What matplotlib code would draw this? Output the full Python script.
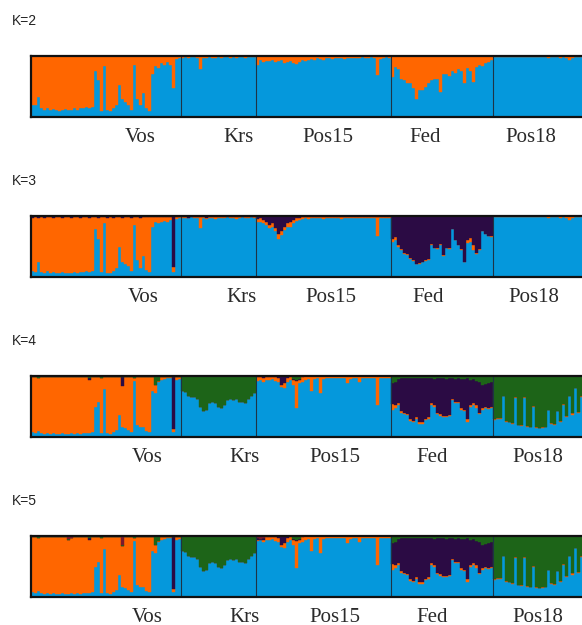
import numpy as np
import matplotlib.pyplot as plt

pops = ['Vos', 'Krs', 'Pos15', 'Fed', 'Pos18']
sizes = [50, 25, 45, 34, 30]
k_labels = ['K=2', 'K=3', 'K=4', 'K=5']

colors = {'blue': '#0598DC', 'orange': '#FF6600', 'purple': '#2B0B44',
          'green': '#1D6418', 'red': '#7A1A2E'}
order = ['blue', 'orange', 'purple', 'green', 'red']

# ---- K=2 (orange is the rest) ----
vos_k2_blue = [0.20, 0.19, 0.33, 0.14, 0.12, 0.15, 0.11, 0.13, 0.12, 0.10,
               0.12, 0.13, 0.11, 0.12, 0.14, 0.12, 0.15, 0.14, 0.17, 0.15,
               0.16, 0.75, 0.60, 0.10, 0.83, 0.12, 0.10, 0.15, 0.20, 0.53,
               0.30, 0.25, 0.20, 0.12, 0.86, 0.30, 0.20, 0.40, 0.15, 0.10,
               0.70, 0.83, 0.80, 0.88, 0.86, 0.90, 0.85, 0.47, 0.95, 0.96]
krs_k2_blue = [0.97, 0.98, 0.97, 0.99, 0.98, 0.97, 0.78, 0.97, 0.96, 0.98,
               0.97, 0.96, 0.98, 0.97, 0.98, 0.99, 0.97, 0.98, 0.96, 0.98,
               0.99, 0.97, 0.98, 0.99, 0.98]
pos15_k2_blue = [0.85, 0.93, 0.90, 0.92, 0.91, 0.94, 0.90, 0.92, 0.93, 0.89,
                 0.90, 0.92, 0.88, 0.87, 0.90, 0.93, 0.92, 0.94, 0.95, 0.94,
                 0.96, 0.95, 0.94, 0.97, 0.96, 0.95, 0.96, 0.97, 0.96, 0.95,
                 0.97, 0.96, 0.97, 0.96, 0.97, 0.98, 0.96, 0.97, 0.98, 0.97,
                 0.69, 0.95, 0.97, 0.98, 0.97]
fed_k2_blue = [0.66, 0.82, 0.78, 0.63, 0.60, 0.55, 0.55, 0.47, 0.30, 0.44,
               0.45, 0.50, 0.55, 0.60, 0.63, 0.62, 0.41, 0.70, 0.71, 0.68,
               0.75, 0.72, 0.78, 0.76, 0.55, 0.80, 0.75, 0.58, 0.82, 0.85,
               0.84, 0.88, 0.90, 0.93]
pos18_k2_blue = [0.98, 0.99, 0.98, 0.99, 0.99, 0.98, 0.99, 0.98, 0.99, 0.99,
                 0.98, 0.99, 0.99, 0.98, 0.99, 0.98, 0.99, 0.98, 0.97, 0.98,
                 0.99, 0.98, 0.96, 0.98, 0.97, 0.93, 0.97, 0.98, 0.99, 0.98]

# ---- K=3 ----
vos_k3_blue = [0.10, 0.09, 0.25, 0.08, 0.07, 0.10, 0.07, 0.08, 0.07, 0.06,
               0.08, 0.07, 0.06, 0.07, 0.08, 0.07, 0.09, 0.08, 0.10, 0.09,
               0.10, 0.78, 0.62, 0.08, 0.88, 0.07, 0.06, 0.10, 0.15, 0.50,
               0.25, 0.22, 0.18, 0.10, 0.86, 0.28, 0.15, 0.35, 0.12, 0.08,
               0.82, 0.90, 0.88, 0.90, 0.92, 0.90, 0.93, 0.08, 0.95, 0.96]
vos_k3_purple = [0.03, 0.02, 0.03, 0.02, 0.03, 0.02, 0.02, 0.03, 0.02, 0.02,
                 0.03, 0.02, 0.02, 0.03, 0.02, 0.02, 0.03, 0.02, 0.02, 0.03,
                 0.02, 0.02, 0.03, 0.02, 0.02, 0.03, 0.02, 0.04, 0.02, 0.02,
                 0.03, 0.02, 0.02, 0.03, 0.02, 0.02, 0.03, 0.02, 0.02, 0.01,
                 0.01, 0.01, 0.02, 0.01, 0.01, 0.01, 0.01, 0.84, 0.01, 0.01]
krs_k3_blue = [0.96, 0.97, 0.96, 0.98, 0.97, 0.96, 0.80, 0.96, 0.95, 0.97,
               0.96, 0.95, 0.97, 0.96, 0.97, 0.98, 0.96, 0.97, 0.95, 0.97,
               0.98, 0.96, 0.97, 0.98, 0.97]
krs_k3_purple = [0.02, 0.02, 0.03, 0.01, 0.02, 0.02, 0.02, 0.02, 0.03, 0.02,
                 0.02, 0.02, 0.01, 0.02, 0.02, 0.01, 0.02, 0.02, 0.02, 0.01,
                 0.01, 0.02, 0.02, 0.01, 0.02]
pos15_k3_blue = [0.90, 0.90, 0.88, 0.85, 0.80, 0.82, 0.75, 0.62, 0.69, 0.77,
                 0.82, 0.82, 0.89, 0.92, 0.94, 0.95, 0.96, 0.95, 0.96, 0.96,
                 0.97, 0.96, 0.95, 0.97, 0.96, 0.96, 0.97, 0.96, 0.95, 0.97,
                 0.96, 0.97, 0.96, 0.97, 0.96, 0.97, 0.96, 0.97, 0.97, 0.96,
                 0.68, 0.96, 0.97, 0.97, 0.96]
pos15_k3_purple = [0.05, 0.04, 0.06, 0.10, 0.15, 0.12, 0.20, 0.30, 0.25, 0.18,
                   0.12, 0.10, 0.06, 0.04, 0.03, 0.02, 0.01, 0.01, 0.01, 0.01,
                   0.01, 0.01, 0.01, 0.01, 0.01, 0.01, 0.01, 0.01, 0.01, 0.01,
                   0.01, 0.01, 0.01, 0.01, 0.01, 0.01, 0.01, 0.01, 0.01, 0.01,
                   0.01, 0.01, 0.01, 0.01, 0.01]
fed_k3_blue = [0.58, 0.60, 0.50, 0.45, 0.38, 0.36, 0.30, 0.27, 0.21, 0.22,
               0.24, 0.27, 0.28, 0.53, 0.47, 0.46, 0.53, 0.35, 0.47, 0.46,
               0.78, 0.60, 0.52, 0.45, 0.24, 0.55, 0.58, 0.45, 0.38, 0.45,
               0.75, 0.70, 0.67, 0.66]
fed_k3_orange = [0.04, 0.05, 0.02, 0.01, 0.01, 0.01, 0.01, 0.01, 0.01, 0.01,
                 0.01, 0.01, 0.01, 0.01, 0.01, 0.01, 0.01, 0.01, 0.01, 0.01,
                 0.01, 0.01, 0.01, 0.01, 0.01, 0.05, 0.06, 0.08, 0.01, 0.01,
                 0.01, 0.01, 0.01, 0.01]

# ---- K=4 ----
vos_k4_blue = [0.08, 0.07, 0.10, 0.06, 0.05, 0.06, 0.05, 0.06, 0.05, 0.05,
               0.06, 0.05, 0.05, 0.06, 0.05, 0.06, 0.05, 0.06, 0.07, 0.06,
               0.08, 0.50, 0.58, 0.06, 0.78, 0.06, 0.05, 0.08, 0.12, 0.36,
               0.17, 0.15, 0.12, 0.08, 0.92, 0.20, 0.17, 0.16, 0.10, 0.08,
               0.75, 0.72, 0.90, 0.94, 0.95, 0.96, 0.97, 0.08, 0.94, 0.95]
vos_k4_purple = [0, 0, 0, 0, 0, 0, 0, 0, 0, 0,
                 0, 0, 0, 0, 0, 0, 0, 0, 0, 0.03,
                 0, 0, 0, 0, 0, 0, 0, 0, 0, 0,
                 0.15, 0, 0, 0, 0, 0, 0, 0, 0, 0,
                 0, 0, 0, 0, 0, 0, 0, 0.86, 0, 0]
vos_k4_green = [0.01, 0.01, 0.04, 0.01, 0.01, 0.01, 0.01, 0.01, 0.01, 0.01,
                0.01, 0.01, 0.01, 0.01, 0.01, 0.01, 0.01, 0.01, 0.01, 0.03,
                0.01, 0.01, 0.01, 0.03, 0.01, 0.01, 0.01, 0.01, 0.01, 0.01,
                0.01, 0.01, 0.01, 0.01, 0.04, 0.01, 0.01, 0.01, 0.01, 0.01,
                0.01, 0.15, 0.08, 0.01, 0.01, 0.01, 0.01, 0.01, 0.02, 0.01]
krs_k4_blue = [0.75, 0.73, 0.68, 0.65, 0.66, 0.62, 0.50, 0.43, 0.45, 0.56,
               0.58, 0.55, 0.50, 0.48, 0.52, 0.60, 0.63, 0.60, 0.62, 0.58,
               0.57, 0.55, 0.62, 0.68, 0.72]
pos15_k4_blue = [0.92, 0.93, 0.90, 0.94, 0.93, 0.95, 0.92, 0.90, 0.82, 0.80,
                 0.90, 0.93, 0.85, 0.47, 0.88, 0.90, 0.94, 0.95, 0.75, 0.95,
                 0.96, 0.72, 0.95, 0.96, 0.97, 0.96, 0.97, 0.96, 0.97, 0.96,
                 0.88, 0.95, 0.97, 0.96, 0.90, 0.96, 0.97, 0.96, 0.97, 0.96,
                 0.53, 0.96, 0.97, 0.96, 0.97]
pos15_k4_purple = [0.02, 0.02, 0.03, 0.02, 0.02, 0.01, 0.02, 0.03, 0.14, 0.12,
                   0.04, 0.02, 0.02, 0.02, 0.01, 0.01, 0, 0, 0, 0,
                   0, 0, 0, 0, 0, 0, 0, 0, 0, 0,
                   0, 0, 0, 0, 0, 0, 0, 0, 0, 0,
                   0, 0, 0, 0, 0]
pos15_k4_green = [0, 0, 0, 0, 0, 0, 0, 0, 0, 0,
                  0, 0, 0.05, 0.07, 0.05, 0, 0, 0, 0, 0,
                  0, 0, 0, 0, 0, 0, 0, 0, 0, 0,
                  0, 0, 0, 0, 0, 0, 0, 0, 0, 0,
                  0, 0, 0, 0, 0]
fed_k4_blue = [0.44, 0.47, 0.53, 0.40, 0.38, 0.36, 0.27, 0.25, 0.30, 0.22,
               0.22, 0.28, 0.30, 0.53, 0.50, 0.37, 0.35, 0.33, 0.33, 0.34,
               0.60, 0.56, 0.55, 0.45, 0.42, 0.25, 0.50, 0.52, 0.48, 0.38,
               0.45, 0.47, 0.46, 0.48]
fed_k4_orange = [0.10, 0.06, 0.02, 0.03, 0.02, 0.02, 0.02, 0.02, 0.02, 0.02,
                 0.02, 0.02, 0.02, 0.02, 0.02, 0.02, 0.02, 0.02, 0.02, 0.02,
                 0.02, 0.02, 0.02, 0.02, 0.03, 0.05, 0.02, 0.03, 0.05, 0.02,
                 0.02, 0.02, 0.02, 0.02]
fed_k4_green = [0.12, 0.10, 0.05, 0.04, 0.03, 0.04, 0.03, 0.03, 0.04, 0.03,
                0.03, 0.04, 0.03, 0.04, 0.05, 0.04, 0.03, 0.04, 0.05, 0.04,
                0.04, 0.05, 0.04, 0.05, 0.05, 0.04, 0.06, 0.05, 0.08, 0.10,
                0.14, 0.13, 0.12, 0.10]
pos18_k4_blue = [0.28, 0.30, 0.30, 0.67, 0.25, 0.24, 0.22, 0.64, 0.19, 0.18,
                 0.64, 0.17, 0.16, 0.50, 0.15, 0.14, 0.15, 0.16, 0.44, 0.22,
                 0.20, 0.42, 0.25, 0.53, 0.33, 0.67, 0.36, 0.80, 0.40, 0.66]
pos18_k4_orange = [0.01, 0.01, 0.01, 0.01, 0.01, 0.01, 0.01, 0.01, 0.01, 0.01,
                   0.01, 0.01, 0.01, 0.01, 0.01, 0.01, 0.01, 0.01, 0.01, 0.01,
                   0.01, 0.01, 0.01, 0.01, 0.01, 0.01, 0.03, 0.01, 0.01, 0.01]

# ---- K=5 (extra cluster on top of the K=4 pattern) ----
vos_k5_purple = [0, 0, 0, 0, 0, 0, 0, 0, 0, 0,
                 0, 0, 0, 0, 0, 0, 0, 0, 0, 0.03,
                 0, 0, 0, 0, 0, 0, 0, 0, 0, 0,
                 0, 0, 0, 0, 0, 0, 0, 0, 0, 0,
                 0, 0, 0, 0, 0, 0, 0, 0.86, 0, 0]
vos_k5_red = [0, 0, 0, 0, 0, 0, 0, 0, 0, 0,
              0, 0, 0.05, 0.03, 0, 0, 0, 0, 0, 0,
              0, 0, 0, 0, 0, 0, 0, 0, 0, 0,
              0.15, 0, 0, 0, 0, 0, 0, 0, 0, 0,
              0, 0, 0, 0, 0, 0, 0, 0, 0, 0]
pos15_k5_red = [0.04, 0.05, 0.03, 0, 0, 0, 0, 0, 0, 0,
                0, 0, 0, 0, 0, 0, 0, 0, 0, 0,
                0, 0, 0, 0, 0, 0, 0, 0, 0, 0,
                0, 0, 0, 0, 0, 0, 0, 0, 0, 0,
                0, 0, 0, 0, 0]

# (given clusters, cluster that takes the remainder) per population
k2 = [({'blue': vos_k2_blue}, 'orange'),
      ({'blue': krs_k2_blue}, 'orange'),
      ({'blue': pos15_k2_blue}, 'orange'),
      ({'blue': fed_k2_blue}, 'orange'),
      ({'blue': pos18_k2_blue}, 'orange')]
k3 = [({'blue': vos_k3_blue, 'purple': vos_k3_purple}, 'orange'),
      ({'blue': krs_k3_blue, 'purple': krs_k3_purple}, 'orange'),
      ({'blue': pos15_k3_blue, 'purple': pos15_k3_purple}, 'orange'),
      ({'blue': fed_k3_blue, 'orange': fed_k3_orange}, 'purple'),
      ({'blue': pos18_k2_blue}, 'orange')]
k4 = [({'blue': vos_k4_blue, 'purple': vos_k4_purple, 'green': vos_k4_green}, 'orange'),
      ({'blue': krs_k4_blue}, 'green'),
      ({'blue': pos15_k4_blue, 'purple': pos15_k4_purple, 'green': pos15_k4_green}, 'orange'),
      ({'blue': fed_k4_blue, 'orange': fed_k4_orange, 'green': fed_k4_green}, 'purple'),
      ({'blue': pos18_k4_blue, 'orange': pos18_k4_orange}, 'green')]
k5 = [({'blue': vos_k4_blue, 'purple': vos_k5_purple, 'green': vos_k4_green,
        'red': vos_k5_red}, 'orange'),
      ({'blue': krs_k4_blue}, 'green'),
      ({'blue': pos15_k4_blue, 'purple': pos15_k4_purple, 'green': pos15_k4_green,
        'red': pos15_k5_red}, 'orange'),
      ({'blue': fed_k4_blue, 'orange': fed_k4_orange, 'green': fed_k4_green}, 'purple'),
      ({'blue': pos18_k4_blue, 'orange': pos18_k4_orange}, 'green')]
panels = [k2, k3, k4, k5]


def build_q(panel):
    blocks = []
    for (given, rest), n in zip(panel, sizes):
        q = np.zeros((n, len(order)))
        for name, vals in given.items():
            q[:, order.index(name)] = vals
        q[:, order.index(rest)] = np.clip(1 - q.sum(axis=1), 0, 1)
        blocks.append(q)
    return np.vstack(blocks)


W, H = 582, 625
fig = plt.figure(figsize=(W / 100, H / 100), dpi=100)

panel_top = [56, 216, 376, 536]
panel_h = 61
label_x = [140, 238, 328, 425, 531]
label_shift = [0, 3, 7, 7]
bounds = np.cumsum(sizes)

for p, (klab, panel) in enumerate(zip(k_labels, panels)):
    top = panel_top[p]
    ax = fig.add_axes([31 / W, 1 - (top + panel_h) / H, 552 / W, panel_h / H])
    q = build_q(panel)
    x = np.arange(q.shape[0])
    bottom = np.zeros(q.shape[0])
    for c, name in enumerate(order):
        h = q[:, c]
        if h.sum() == 0:
            continue
        ax.bar(x, h, bottom=bottom, width=1.0, align='edge',
               color=colors[name], edgecolor=colors[name], linewidth=0.3)
        bottom += h
    for b in bounds[:-1]:
        ax.axvline(b, color='#1E3345', lw=0.8)
    ax.set_xlim(0, bounds[-1])
    ax.set_ylim(0, 1)
    ax.set_xticks([])
    ax.set_yticks([])
    for s in ['left', 'top', 'bottom']:
        ax.spines[s].set_linewidth(1.6)
        ax.spines[s].set_color('#111111')
    ax.spines['right'].set_visible(False)

    fig.text(12 / W, 1 - (top - 35) / H, klab, ha='left', va='center',
             fontsize=10, family='Liberation Sans', color='#222222')
    ly = 1 - (top + panel_h + 20) / H
    for name, lx in zip(pops, label_x):
        fig.text((lx + label_shift[p]) / W, ly, name, ha='center', va='center',
                 fontsize=15, family='Liberation Serif', color='#2a2a2a')

fig.savefig('out.png', dpi=100)
